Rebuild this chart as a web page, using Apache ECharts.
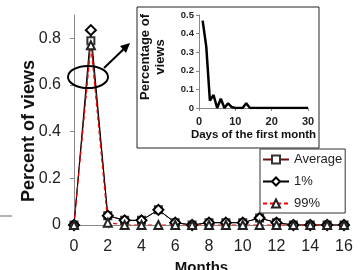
<!DOCTYPE html>
<html>
<head>
<meta charset="utf-8">
<script src="https://cdn.jsdelivr.net/npm/echarts@6/dist/echarts.min.js"></script>
<style>
  html, body { margin: 0; padding: 0; background: #fff; }
  #chart { width: 361px; height: 270px; }
</style>
</head>
<body>
<div id="chart"></div>
<script>
// main chart: months
const months = [0, 1, 2, 3, 4, 5, 6, 7, 8, 9, 10, 11, 12, 13, 14, 15, 16]
const average = [0, 0.79, 0.04, 0.02, 0.02, 0.065, 0.01, 0, 0.01, 0.01, 0.01, 0.03, 0.01, 0, 0, 0, 0]
const pct1 = [0, 0.835, 0.04, 0.02, 0.02, 0.065, 0.01, 0, 0.01, 0.01, 0.01, 0.03, 0.01, 0, 0, 0, 0]
const pct99 = [0, 0.77, 0.01, 0, 0, 0, 0, 0, 0, 0, 0, 0, 0, 0, 0, 0, 0]
// inset: days of the first month
const days = [1, 2, 3, 4, 5, 6, 7, 8, 9, 10, 11, 12, 13, 14, 15, 16, 17, 18, 19, 20, 21, 22, 23, 24, 25, 26, 27, 28, 29, 30]
const dayViews = [0.47, 0.33, 0.04, 0.07, 0, 0.05, 0, 0.025, 0.005, 0, 0, 0, 0.025, 0, 0, 0, 0, 0, 0, 0, 0, 0, 0, 0, 0, 0, 0, 0, 0, 0]

const font = '"Liberation Sans", Arial, sans-serif'
const pairs = (xs, ys) => xs.map((x, i) => [x, ys[i]])

let chart = echarts.init(document.getElementById('chart'))
chart.setOption({
  animation: false,
  textStyle: { fontFamily: font },
  grid: [
    { left: 74, right: 17, top: 15, bottom: 45, outerBoundsMode: 'none' },
    { left: 199, right: 53, top: 15, bottom: 162, outerBoundsMode: 'none' },
  ],
  legend: {
    orient: 'vertical',
    left: 260,
    top: 149,
    padding: [4, 3, 3, 2],
    itemGap: 9,
    itemWidth: 26,
    itemHeight: 10,
    borderColor: '#333',
    borderWidth: 1,
    backgroundColor: '#fff',
    textStyle: { fontSize: 13, color: '#222' },
    data: ['Average', '1%', '99%'],
  },
  xAxis: [
    {
      gridIndex: 0,
      type: 'value',
      min: 0,
      max: 16,
      interval: 2,
      name: 'Months',
      nameLocation: 'middle',
      nameGap: 33,
      nameTextStyle: { fontSize: 15, fontWeight: 'bold', color: '#111', padding: [0, 15, 0, 0] },
      axisLine: { lineStyle: { color: '#888' } },
      axisTick: { show: true, length: 4, lineStyle: { color: '#bbb' } },
      axisLabel: { fontSize: 16, color: '#222', margin: 14 },
      splitLine: { show: false },
    },
    {
      gridIndex: 1,
      type: 'value',
      min: 0,
      max: 30,
      interval: 10,
      z: 4,
      name: 'Days of the first month',
      nameLocation: 'middle',
      nameGap: 21,
      nameTextStyle: { fontSize: 11.5, fontWeight: 'bold', color: '#111' },
      axisLine: { lineStyle: { color: '#888' } },
      axisTick: { show: true, length: 3, lineStyle: { color: '#888' } },
      axisLabel: { fontSize: 11, fontWeight: 'bold', color: '#222', margin: 8 },
      splitLine: { show: false },
    },
  ],
  yAxis: [
    {
      gridIndex: 0,
      type: 'value',
      min: 0,
      max: 0.9,
      interval: 0.2,
      axisLine: { show: true, lineStyle: { color: '#888' } },
      axisTick: { show: true, length: 4, lineStyle: { color: '#888' } },
      axisLabel: { fontSize: 16, color: '#222', margin: 13, showMaxLabel: false },
      splitLine: { show: false },
    },
    {
      gridIndex: 1,
      type: 'value',
      min: 0,
      max: 0.5,
      interval: 0.1,
      z: 4,
      axisLine: { show: true, lineStyle: { color: '#888' } },
      axisTick: { show: true, length: 3, lineStyle: { color: '#888' } },
      axisLabel: { fontSize: 9.5, fontWeight: 'bold', color: '#222', margin: 5 },
      splitLine: { show: false },
    },
  ],
  graphic: [
    // main y axis title
    { type: 'text', z: 5, x: 29, y: 131, rotation: Math.PI / 2, style: { text: 'Percent of views', font: 'bold 18px ' + font, fill: '#111', align: 'center', verticalAlign: 'middle' } },
    // inset frame
    { type: 'rect', z: 1, shape: { x: 137, y: 7, width: 182, height: 141 }, style: { fill: '#fff', stroke: '#222', lineWidth: 1 } },
    { type: 'text', z: 5, x: 153, y: 57, rotation: Math.PI / 2, style: { text: 'Percentage of\nviews', font: 'bold 13px ' + font, fill: '#111', align: 'center', verticalAlign: 'middle', lineHeight: 15 } },
    // callout ellipse + arrow
    { type: 'ellipse', z: 6, shape: { cx: 88, cy: 77, rx: 20, ry: 11 }, style: { fill: null, stroke: '#000', lineWidth: 2 } },
    { type: 'line', z: 6, shape: { x1: 104, y1: 68, x2: 128, y2: 45 }, style: { stroke: '#000', lineWidth: 2 } },
    { type: 'polygon', z: 6, shape: { points: [[130, 43], [120, 46], [126, 53]] }, style: { fill: '#000' } },
    { type: 'line', z: 6, shape: { x1: 0, y1: 216, x2: 12, y2: 216 }, style: { stroke: '#666', lineWidth: 1 } },
  ],
  series: [
    {
      name: 'Average',
      type: 'line',
      xAxisIndex: 0,
      yAxisIndex: 0,
      data: pairs(months, average),
      symbol: 'emptyRect',
      symbolSize: 7,
      showAllSymbol: true,
      lineStyle: { width: 1, color: '#6b1010' },
      itemStyle: { color: '#333', borderWidth: 1 },
    },
    {
      name: '1%',
      type: 'line',
      xAxisIndex: 0,
      yAxisIndex: 0,
      data: pairs(months, pct1),
      symbol: 'emptyDiamond',
      symbolSize: 10,
      showAllSymbol: true,
      lineStyle: { width: 1, color: '#000' },
      itemStyle: { color: '#000', borderWidth: 1 },
    },
    {
      name: '99%',
      type: 'line',
      xAxisIndex: 0,
      yAxisIndex: 0,
      data: pairs(months, pct99),
      symbol: 'emptyTriangle',
      symbolSize: 8,
      showAllSymbol: true,
      lineStyle: { width: 1.2, color: '#f00', type: [4, 3] },
      itemStyle: { color: '#222', borderWidth: 1 },
    },
    {
      name: 'days',
      type: 'line',
      xAxisIndex: 1,
      yAxisIndex: 1,
      z: 5,
      data: pairs(days, dayViews),
      symbol: 'none',
      lineStyle: { width: 2.5, color: '#000' },
    },
  ],
})
</script>
</body>
</html>
